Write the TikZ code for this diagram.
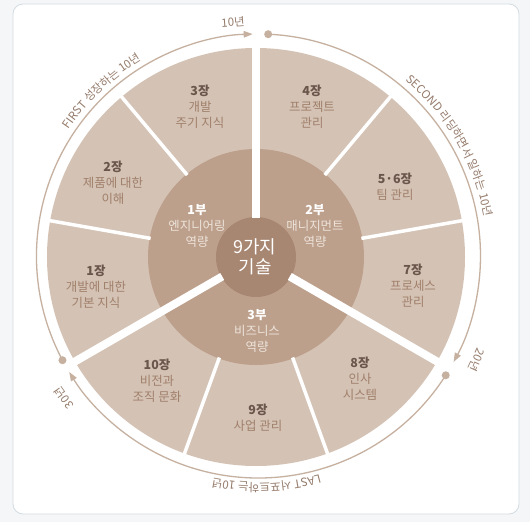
\documentclass[tikz,border=0pt]{standalone}
\usepackage{fontspec}
\setmainfont{Noto Sans CJK KR}
\usetikzlibrary{arrows.meta,decorations.text}
\definecolor{bgc}{HTML}{F5F6F7}
\definecolor{framec}{HTML}{D3DCE2}
\definecolor{outerc}{HTML}{D4C2B4}
\definecolor{midc}{HTML}{BDA08C}
\definecolor{cenc}{HTML}{A78672}
\definecolor{numc}{HTML}{6A564B}
\definecolor{descc}{HTML}{A0806B}
\definecolor{midtxt}{HTML}{EDE3DA}
\definecolor{arcc}{HTML}{C6B1A1}
\definecolor{lblc}{HTML}{957B6B}
\begin{document}
\begin{tikzpicture}[x=1bp,y=1bp,
  chap/.style={align=center,text=descc,font=\fontsize{12.5}{16}\selectfont,inner sep=0pt},
  part/.style={align=center,text=midtxt,font=\fontsize{12.5}{16}\selectfont,inner sep=0pt},
  thindiv/.style={white,line width=3.5bp},
  thickdiv/.style={white,line width=8bp},
  ringarc/.style={arcc,line width=1.3bp,-{Triangle[length=9bp,width=6.5bp]}},
  yearlbl/.style={text=lblc,font=\fontsize{11.5}{11.5}\selectfont,inner sep=0pt},
  ringdot/.style={fill=arcc}
]
\useasboundingbox (-256,-265) rectangle (274,257);
\fill[bgc] (-256,-265) rectangle (274,257);
\draw[framec,fill=white,line width=0.8bp,rounded corners=10bp] (-243,253) rectangle (263,-257);

% discs
\fill[outerc] (0,0) circle[radius=209bp];
\fill[midc] (0,0) circle[radius=108bp];
\fill[cenc] (0,0) circle[radius=40bp];

% dividers
\foreach \a in {130,170,50,10,-70,-110}
  \draw[thindiv] (\a:107) -- (\a:212);
\foreach \a in {90,-30,210}
  \draw[thickdiv] (\a:39) -- (\a:212);

\begin{scope}[shift={(2.5,1)}]
% ring arcs
\coordinate (s1) at (208:222);
\coordinate (s2) at (87.5:222);
\coordinate (s3) at (-32.5:222);
\draw[ringarc] (s1) arc[start angle=208,end angle=91.5,radius=222bp];
\draw[ringarc] (s2) arc[start angle=87.5,end angle=-28.5,radius=222bp];
\draw[ringarc] (s3) arc[start angle=-32.5,end angle=-148.5,radius=222bp];
\fill[ringdot] (s1) circle[radius=4bp];
\fill[ringdot] (s2) circle[radius=4bp];
\fill[ringdot] (s3) circle[radius=4bp];

% curved texts
\path[decorate,decoration={text along path,text align=center,text color=lblc,
  text={|\fontsize{11.5}{11.5}\selectfont|FIRST 성장하는 10년}}]
  (163.5:228) arc[start angle=163.5,end angle=103.5,radius=228bp];
\path[decorate,decoration={text along path,text align=center,text color=lblc,
  text={|\fontsize{11.5}{11.5}\selectfont|SECOND 리딩하면서 일하는 10년}}]
  (72:229) arc[start angle=72,end angle=-12,radius=229bp];
\path[decorate,decoration={text along path,text align=center,text color=lblc,
  text={|\fontsize{11.5}{11.5}\selectfont|LAST 서포트하는 10년}}]
  (-55:227) arc[start angle=-55,end angle=-121,radius=227bp];
\end{scope}

% year labels
\node[yearlbl,rotate=4] (y10) at (-23,235) {10년};
\node[yearlbl,rotate=-115] (y20) at (221,-103) {20년};
\node[yearlbl,rotate=125] (y30) at (-192,-141) {30년};

% chapters
\node[chap] (c3) at (-56,150) {{\bfseries\color{numc}3장}\\개발\\주기 지식};
\node[chap] (c4) at (56,150) {{\bfseries\color{numc}4장}\\프로젝트\\관리};
\node[chap] (c2) at (-143,74) {{\bfseries\color{numc}2장}\\제품에 대한\\이해};
\node[chap] (c56) at (139,70) {{\bfseries\color{numc}5·6장}\\팀 관리};
\node[chap] (c1) at (-160,-30) {{\bfseries\color{numc}1장}\\개발에 대한\\기본 지식};
\node[chap] (c7) at (157,-29) {{\bfseries\color{numc}7장}\\프로세스\\관리};
\node[chap] (c10) at (-99,-124) {{\bfseries\color{numc}10장}\\비전과\\조직 문화};
\node[chap] (c9) at (2,-161) {{\bfseries\color{numc}9장}\\사업 관리};
\node[chap] (c8) at (104,-122) {{\bfseries\color{numc}8장}\\인사\\시스템};

% parts
\node[part] (p1) at (-59,31) {{\bfseries\color{white}1부}\\엔지니어링\\역량};
\node[part] (p2) at (59,31) {{\bfseries\color{white}2부}\\매니지먼트\\역량};
\node[part] (p3) at (1,-74) {{\bfseries\color{white}3부}\\비즈니스\\역량};

% center
\node[align=center,text=white,font=\fontsize{18}{20}\selectfont,inner sep=0pt] (ctr) at (-1,0) {9가지\\기술};
\end{tikzpicture}
\end{document}
